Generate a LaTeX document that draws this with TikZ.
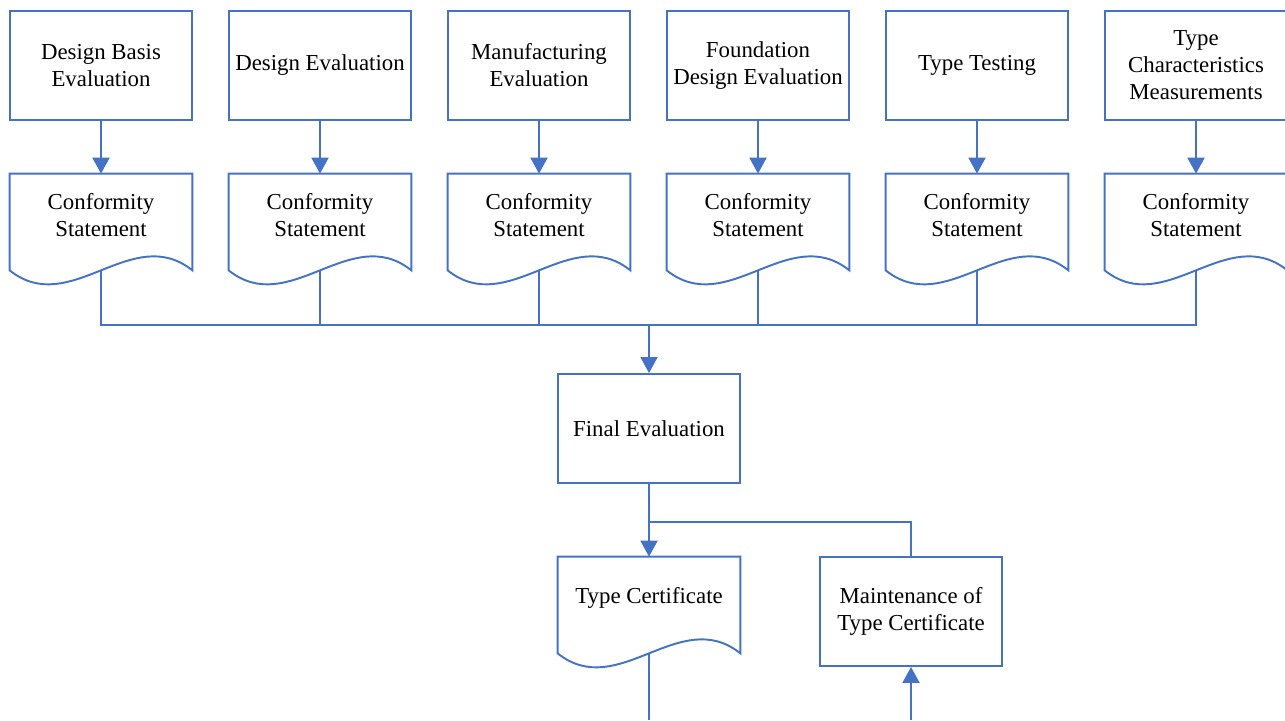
\documentclass[tikz,border=0pt]{standalone}
\usepackage{fontspec}
\setmainfont{Liberation Serif}
\usetikzlibrary{arrows.meta, calc}
\definecolor{lineblue}{HTML}{4472C4}
\tikzstyle{process} = [rectangle, minimum width=3.64cm, minimum height=2.18cm, align=center, draw=lineblue, line width=1.1pt, font=\fontsize{13pt}{15.4pt}\selectfont]
\tikzstyle{docshape} = [rectangle, minimum width=3.64cm, minimum height=1.64cm, align=center, font=\fontsize{13pt}{15.4pt}\selectfont]
\tikzstyle{docline} = [draw=lineblue, line width=1.1pt, line join=miter]
\tikzstyle{connector} = [draw=lineblue, line width=1.1pt]
\tikzstyle{arrow} = [connector, -{Triangle[width=0.34cm, length=0.32cm]}]
% outline of a document node, wave below the text area
\newcommand{\docoutline}[1]{%
  \draw [docline] ($(#1.south east)+(0,-0.28)$) .. controls +(-1.213,0.97) and +(1.213,-0.97) .. ($(#1.south west)+(0,-0.28)$) -- (#1.north west) -- (#1.north east) -- cycle;
  \coordinate (#1out) at ($(#1.south)+(0,-0.28)$);}

\begin{document}
\begin{tikzpicture}[node distance=4.38cm]
        \useasboundingbox (0,0) rectangle (25.7,-14.4);

        \node (DesignBasis) [process] at (2.02,-1.31) {Design Basis\\Evaluation};
        \node (DesignEval) [process, right of=DesignBasis] {Design Evaluation};
        \node (ManufEval) [process, right of=DesignEval] {Manufacturing\\Evaluation};
        \node (FoundEval) [process, right of=ManufEval] {Foundation\\Design Evaluation};
        \node (TypeTest) [process, right of=FoundEval] {Type Testing};
        \node (TypeMeas) [process, right of=TypeTest] {Type\\Characteristics\\Measurements};

        \node (CS1) [docshape, below of=DesignBasis, yshift=1.39cm] {Conformity\\Statement};
        \node (CS2) [docshape, below of=DesignEval, yshift=1.39cm] {Conformity\\Statement};
        \node (CS3) [docshape, below of=ManufEval, yshift=1.39cm] {Conformity\\Statement};
        \node (CS4) [docshape, below of=FoundEval, yshift=1.39cm] {Conformity\\Statement};
        \node (CS5) [docshape, below of=TypeTest, yshift=1.39cm] {Conformity\\Statement};
        \node (CS6) [docshape, below of=TypeMeas, yshift=1.39cm] {Conformity\\Statement};

        \node (FinalEval) [process, below of=CS3, xshift=2.2cm, yshift=0.11cm] {Final Evaluation};
        \node (TypeCert) [docshape, below of=FinalEval, yshift=0.99cm] {Type Certificate};
        \node (MaintCert) [process, right of=TypeCert, xshift=0.86cm, yshift=-0.27cm] {Maintenance of\\Type Certificate};

        \docoutline{CS1}
        \docoutline{CS2}
        \docoutline{CS3}
        \docoutline{CS4}
        \docoutline{CS5}
        \docoutline{CS6}
        \docoutline{TypeCert}

        \coordinate (bus) at ($(FinalEval.north)+(0,0.96)$);
        \coordinate (split) at ($(FinalEval.south)+(0,-0.76)$);
        \coordinate (certEnd) at (TypeCert |- 0,-14.4);
        \coordinate (maintStart) at (MaintCert |- 0,-14.4);

        \draw [arrow] (DesignBasis) -- (CS1);
        \draw [arrow] (DesignEval) -- (CS2);
        \draw [arrow] (ManufEval) -- (CS3);
        \draw [arrow] (FoundEval) -- (CS4);
        \draw [arrow] (TypeTest) -- (CS5);
        \draw [arrow] (TypeMeas) -- (CS6);

        \draw [connector] (CS1out) |- (bus);
        \draw [connector] (CS2out) |- (bus);
        \draw [connector] (CS3out) |- (bus);
        \draw [connector] (CS4out) |- (bus);
        \draw [connector] (CS5out) |- (bus);
        \draw [connector] (CS6out) |- (bus);
        \draw [arrow] (bus) -- (FinalEval);

        \draw [connector] (FinalEval) -- (split);
        \draw [arrow] (split) -- (TypeCert);
        \draw [connector] (split) -| (MaintCert);
        \draw [connector] (TypeCertout) -- (certEnd);
        \draw [arrow] (maintStart) -- (MaintCert);

\end{tikzpicture}
\end{document}
